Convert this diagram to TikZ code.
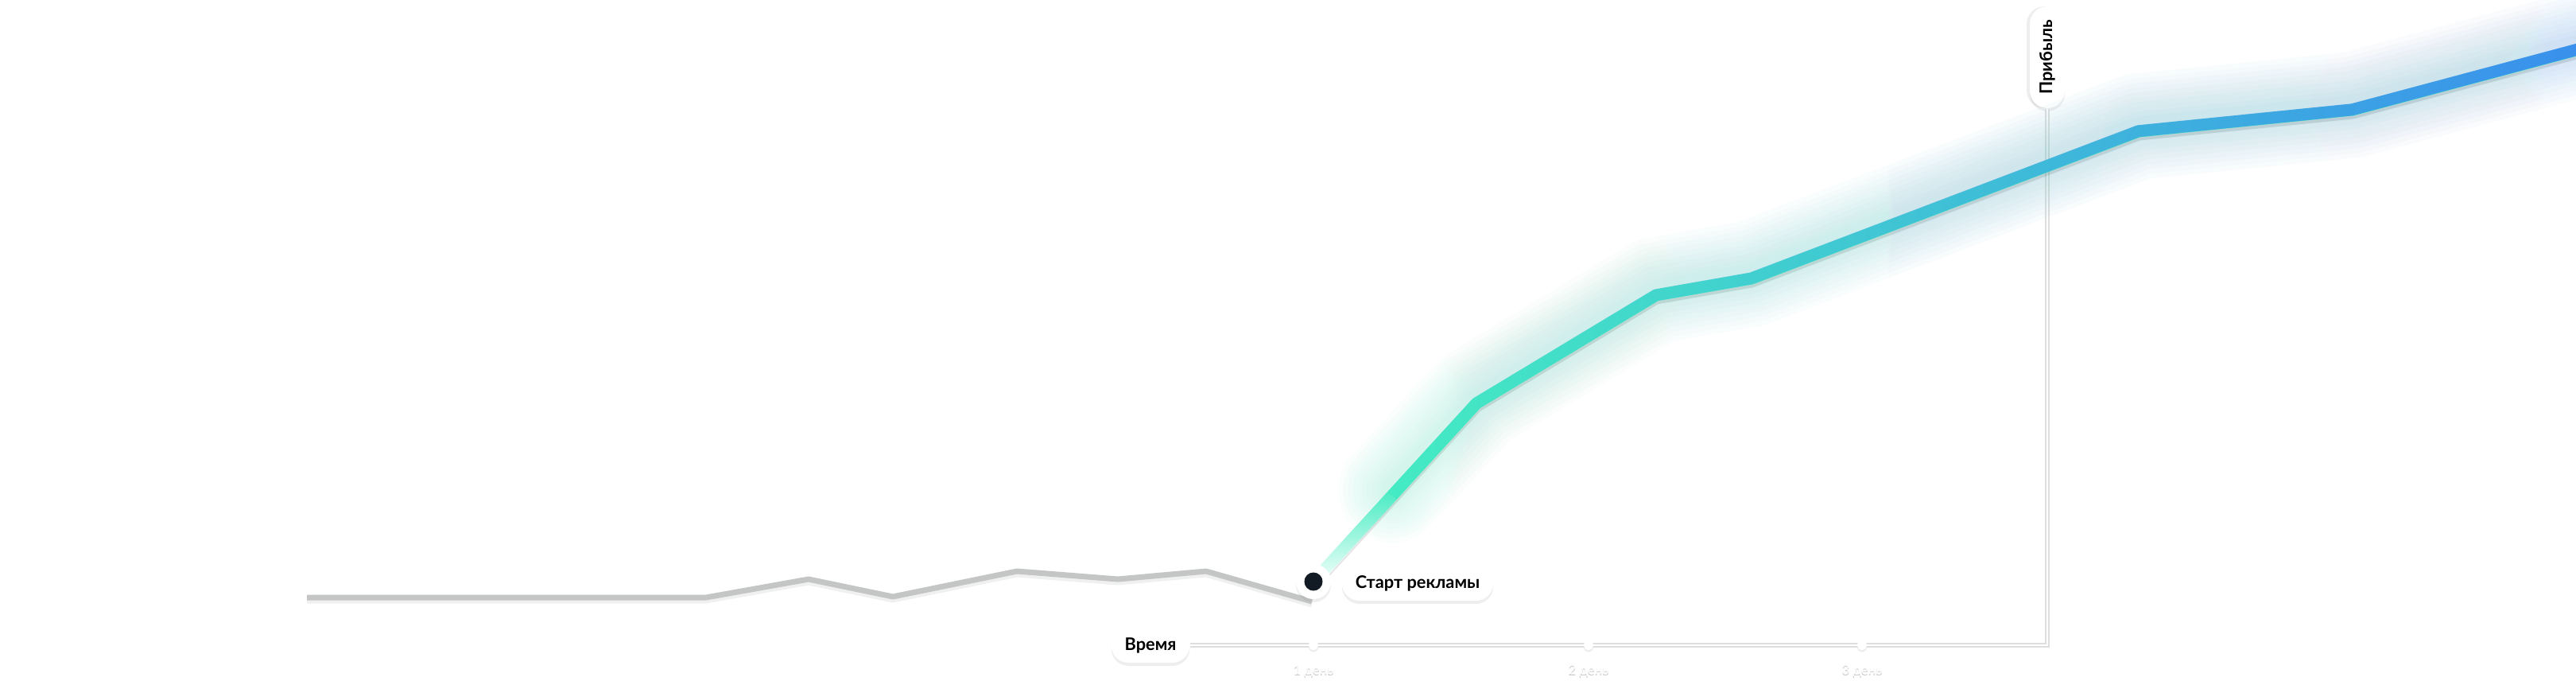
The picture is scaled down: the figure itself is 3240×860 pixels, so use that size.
\documentclass[tikz,border=0pt]{standalone}
\usepackage{fontspec}
\setmainfont{Lato}
\usetikzlibrary{fadings,shadows}

\tikzfading[name=fade in east, left color=transparent!100, right color=transparent!0]
\tikzfading[name=fade out east, left color=transparent!0, right color=transparent!100]
\tikzfading[name=fade out north, bottom color=transparent!0, top color=transparent!100]

\definecolor{mint}{HTML}{45F2C0}
\definecolor{sky}{HTML}{3A8EEE}
\definecolor{ink}{HTML}{121B24}
\definecolor{ash}{HTML}{C4C6C6}

\newcommand\profitpath{(c0) -- (c1) -- (c2) -- (c3) -- (c4) -- (c5) -- (c6)}
\newcommand\glowpath{(fadeend) -- (c1) -- (c2) -- (c3) -- (c4) -- (c5) -- (c6)}
\newcommand\costpath{(g0) -- (g1) -- (g2) -- (g3) -- (g4) -- (g5) -- (g6) -- (g7)}

\begin{document}
\begin{tikzpicture}[x=0.01cm, y=-0.01cm,
    pill/.style={fill=white, rounded corners=0.22cm, minimum height=0.44cm,
      inner xsep=0.17cm, inner ysep=0pt, font=\bfseries\fontsize{6.2}{7}\selectfont,
      drop shadow={opacity=0.13, shadow xshift=0cm, shadow yshift=-0.04cm}},
    axis/.style={black!13, line width=0.06cm, postaction={draw=white, line width=0.025cm}},
    tick/.style={circle, fill=white, minimum size=0.12cm, inner sep=0pt,
      drop shadow={opacity=0.15, shadow xshift=0cm, shadow yshift=-0.025cm}},
    daylbl/.style={font=\fontsize{4.8}{6}\selectfont, inner sep=0pt},
    profit/.style={line width=0.15cm, line join=round},
    glow/.style={line width=#1 cm, opacity=0.022, line join=round, line cap=round},
    cost/.style={ash, line width=0.07cm, line join=round}]
  \fill[white] (0,0) rectangle (3240,860);
  \useasboundingbox (0,0) rectangle (3240,860);

  % points of the two lines
  \coordinate (g0) at (386,751);
  \coordinate (g1) at (888,751);
  \coordinate (g2) at (1017,728);
  \coordinate (g3) at (1123,750);
  \coordinate (g4) at (1279,718);
  \coordinate (g5) at (1406,728);
  \coordinate (g6) at (1517,718);
  \coordinate (g7) at (1650,756);
  \coordinate (c0) at (1652,731);
  \coordinate (c1) at (1857,507);
  \coordinate (c2) at (2083,371);
  \coordinate (c3) at (2203,350);
  \coordinate (c4) at (2690,165);
  \coordinate (c5) at (2959,138);
  \coordinate (c6) at (3270,55);
  \coordinate (fadeend) at (1750,622);

  % axes
  \node[pill] (timelbl) at (1447,811) {Время};
  \node[pill, rotate=90, drop shadow={opacity=0.13, shadow xshift=-0.04cm, shadow yshift=0cm}]
    (profitlbl) at (2575,72) {Прибыль};
  \draw[axis] (timelbl.east) -| (profitlbl.west);
  \foreach \x/\d in {1652/1, 1998/2, 2342/3} {
    \node[tick] (t\d) at (\x,811) {};
    \node[daylbl, text=black!18] at (\x,845) {\d~день};
    \node[daylbl, text=white] (d\d) at (\x,843) {\d~день};
  }

  % grey line before the start
  \draw[cost, black!6, transform canvas={yshift=-0.04cm}] \costpath;
  \draw[cost] \costpath;

  % glow
  \begin{scope}[transform canvas={yshift=0.06cm}]
    \foreach \w in {0.25,0.37,...,1.35} {
      \draw[glow=\w, mint, path fading=fade out east] \glowpath;
      \draw[glow=\w, sky, path fading=fade in east] \glowpath;
    }
  \end{scope}
  % shadow and line
  \draw[profit, black, opacity=0.1, transform canvas={yshift=-0.04cm}] \profitpath;
  \draw[profit, mint] \profitpath;
  \draw[profit, sky, path fading=fade in east] \profitpath;
  \draw[white, line width=0.17cm, path fading=fade out north] (c0) -- (fadeend);

  % start marker
  \node[circle, fill=white, minimum size=0.44cm, inner sep=0pt,
    drop shadow={opacity=0.13, shadow xshift=0cm, shadow yshift=-0.04cm}] (ring) at (c0) {};
  \node[pill] (startlbl) at (1783,733) {Старт рекламы};
  \draw[white, line width=0.06cm] (ring) -- (startlbl);
  \node[circle, fill=ink, minimum size=0.23cm, inner sep=0pt] (start) at (c0) {};
\end{tikzpicture}
\end{document}
